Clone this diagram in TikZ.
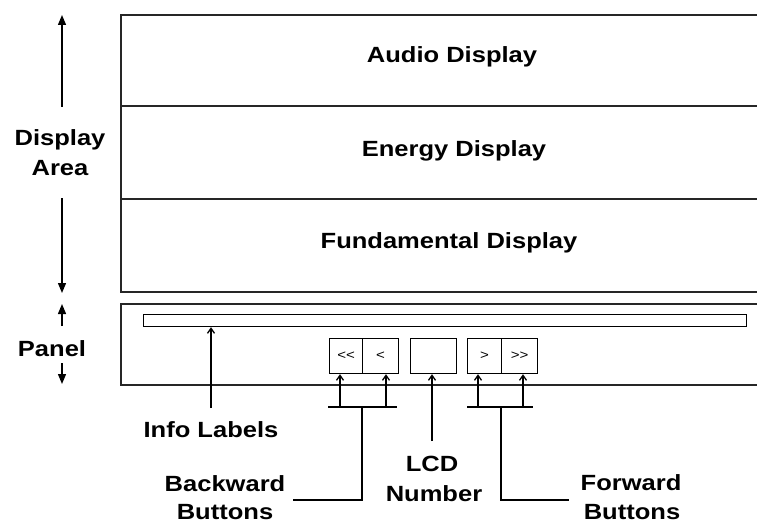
\documentclass[tikz,border=0pt]{standalone}
\usepackage{fontspec}
\setmainfont{Liberation Sans}[FakeStretch=1.16]
\usetikzlibrary{arrows.meta}
\tikzset{
  frame/.style={draw=black!85, line width=1.6pt},
  boxline/.style={draw=black, line width=1.2pt},
  wire/.style={draw=black, line width=1.3pt},
  label/.style={inner sep=0pt, anchor=base, font=\fontsize{22}{30}\selectfont\bfseries},
  btn/.style={inner sep=0pt, font=\fontsize{13}{14}\selectfont},
  bigarrow/.style={wire, -{Triangle[length=10pt,width=8pt]}},
  pointer/.style={wire, -{Straight Barb[length=5pt,width=7pt]}}
}
\begin{document}
\begin{tikzpicture}[x=1pt,y=-1pt]
  \useasboundingbox (0,0) rectangle (757,524);
  \clip (0,0) rectangle (757,524);

  % display area: three stacked bands running off to the right
  \draw[frame] (790,15) -- (121,15) -- (121,292) -- (790,292);
  \draw[frame] (121,106) -- (790,106);
  \draw[frame] (121,199) -- (790,199);
  \node[label] (audio) at (452,63) {Audio Display};
  \node[label] (energy) at (454,157) {Energy Display};
  \node[label] (fund) at (449,248) {Fundamental Display};

  % control panel
  \draw[frame] (790,304) -- (121,304) -- (121,385) -- (790,385);
  \node[boxline, minimum width=603pt, minimum height=12pt, anchor=north west, inner sep=0pt] (info) at (143,314) {};

  % transport buttons and LCD number
  \node[boxline, btn, minimum width=33pt, minimum height=35pt, anchor=north west] (bb) at (329,338) {<{}<};
  \node[boxline, btn, minimum width=36pt, minimum height=35pt, anchor=north west] (b) at (362,338) {<};
  \node[boxline, minimum width=46pt, minimum height=35pt, anchor=north west, inner sep=0pt] (lcd) at (410,338) {};
  \node[boxline, btn, minimum width=34pt, minimum height=35pt, anchor=north west] (f) at (467,338) {>};
  \node[boxline, btn, minimum width=36pt, minimum height=35pt, anchor=north west] (ff) at (501,338) {>{}>};

  % side labels with extent arrows
  \node[label] (disp) at (60,145) {Display};
  \node[label] (area) at (60,175) {Area};
  \coordinate (dtop) at (62,15);
  \coordinate (dbot) at (62,293);
  \coordinate (dup) at (62,107);
  \coordinate (ddown) at (62,198);
  \draw[bigarrow] (dup) -- (dtop);
  \draw[bigarrow] (ddown) -- (dbot);

  \node[label] (panel) at (52,356) {Panel};
  \coordinate (ptop) at (62,304);
  \coordinate (pbot) at (62,384);
  \coordinate (pup) at (62,326);
  \coordinate (pdown) at (62,363);
  \draw[bigarrow] (pup) -- (ptop);
  \draw[bigarrow] (pdown) -- (pbot);

  % callout labels below the panel
  \node[label] (infolab) at (211,437) {Info Labels};
  \node[label] (lcdlab) at (432,471) {LCD};
  \node[label] (numlab) at (434,501) {Number};
  \node[label] (backlab) at (225,491) {Backward};
  \node[label] (backlab2) at (225,519) {Buttons};
  \node[label] (fwdlab) at (631,490) {Forward};
  \node[label] (fwdlab2) at (632,519) {Buttons};

  % info labels pointer
  \coordinate (infofoot) at (211,408);
  \draw[pointer] (infofoot) -- (infofoot |- info.south);

  % backward buttons callout
  \coordinate (bl) at (328,407);
  \coordinate (br) at (397,407);
  \coordinate (bbfoot) at (340,407);
  \coordinate (bfoot) at (386,407);
  \coordinate (bstem) at (362,407);
  \coordinate (bcorner) at (362,500);
  \coordinate (bend) at (293,500);
  \draw[wire] (bl) -- (br);
  \draw[pointer] (bbfoot) -- (bbfoot |- bb.south);
  \draw[pointer] (bfoot) -- (bfoot |- b.south);
  \draw[wire] (bstem) -- (bcorner) -- (bend);

  % LCD callout
  \coordinate (lcdfoot) at (432,441);
  \draw[pointer] (lcdfoot) -- (lcdfoot |- lcd.south);

  % forward buttons callout
  \coordinate (fl) at (467,407);
  \coordinate (fr) at (533,407);
  \coordinate (ffoot) at (478,407);
  \coordinate (fffoot) at (523,407);
  \coordinate (fstem) at (501,407);
  \coordinate (fcorner) at (501,500);
  \coordinate (fend) at (569,500);
  \draw[wire] (fl) -- (fr);
  \draw[pointer] (ffoot) -- (ffoot |- f.south);
  \draw[pointer] (fffoot) -- (fffoot |- ff.south);
  \draw[wire] (fstem) -- (fcorner) -- (fend);
\end{tikzpicture}
\end{document}
